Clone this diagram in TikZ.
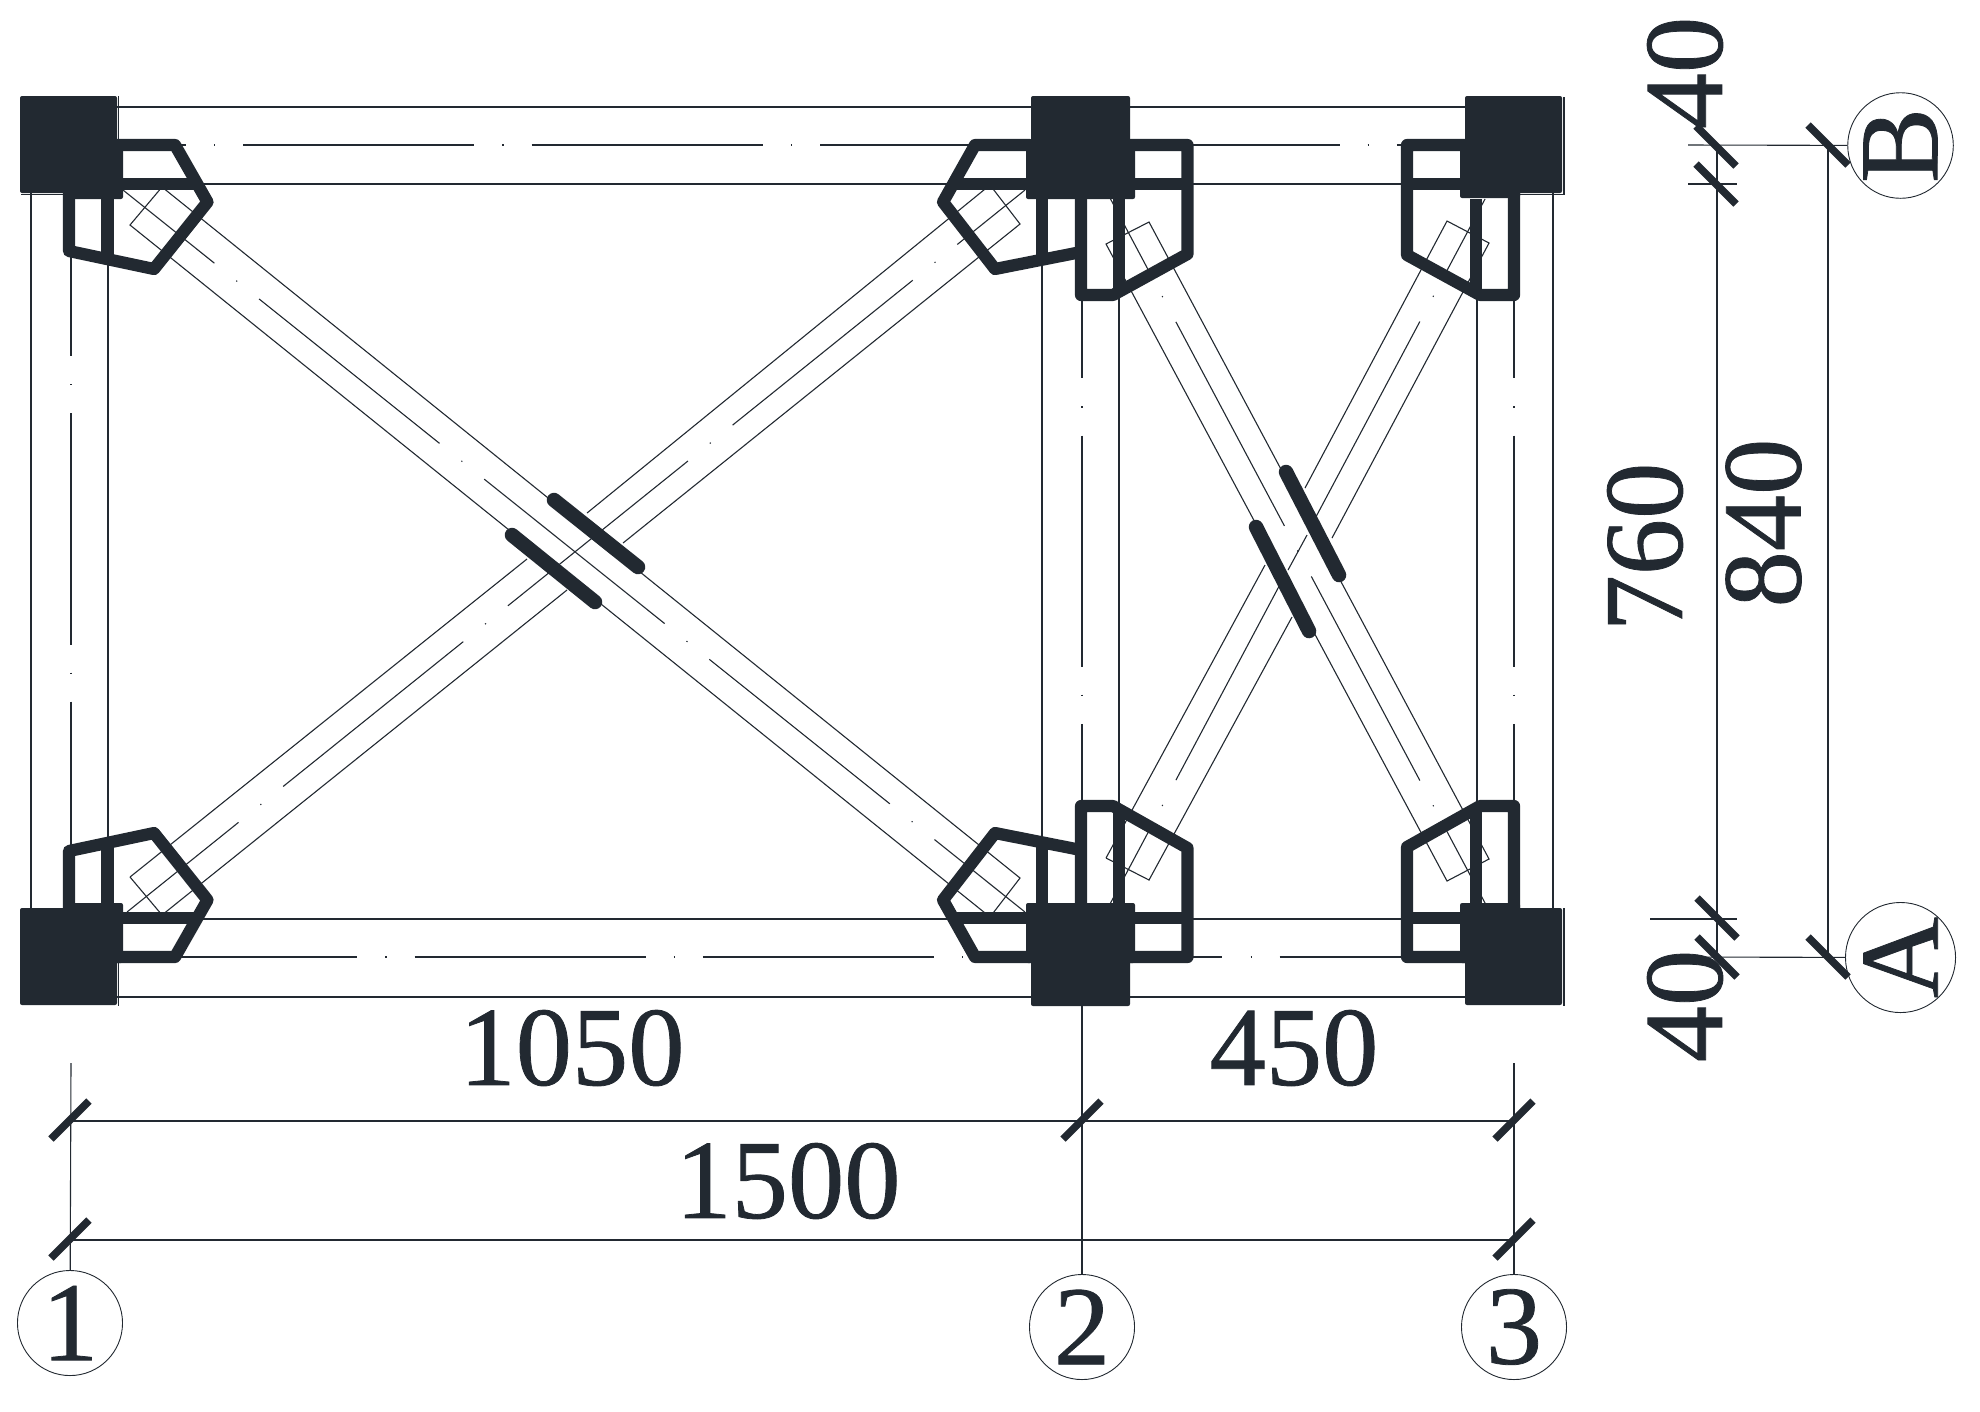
\documentclass[tikz,border=0pt]{standalone}
\usepackage{fontspec}
\setmainfont[FakeBold=0.7]{Liberation Serif}
\definecolor{ink}{HTML}{222931}
\tikzset{
    thinline/.style={draw=ink, line width=0.011cm},
    axisline/.style={thinline, dash pattern=on 2.31cm off .28cm on .012cm off .28cm},
    plate/.style={draw=ink, line width=0.122cm, line join=round},
    colblock/.style={fill=ink, rounded corners=.02cm},
    tickmark/.style={draw=ink, line width=0.075cm},
    gusset/.style={draw=ink, line width=0.145cm, line cap=round},
    dimtext/.style={text=ink, inner sep=0pt, font=\fontsize{32}{32}\selectfont},
    axisbubble/.style={circle, draw=ink, line width=0.009cm, inner sep=0pt, minimum size=1.05cm, dimtext}
}
\begin{document}
\begin{tikzpicture}[x=0.01cm, y=-0.01cm]
    \useasboundingbox (0,0) rectangle (1980,1411);

    % axis bubbles
    \node[axisbubble] (ax1) at (70,1323) {1};
    \node[axisbubble] (ax2) at (1082,1327) {2};
    \node[axisbubble] (ax3) at (1514,1327) {3};
    \node[axisbubble] (axB) at (1900.5,145.5) {\rotatebox{90}{B}};
    \node[axisbubble] (axA) at (1900.5,957.5) {\rotatebox{90}{A}};

    % beams
    \draw[thinline] (117,107) -- (1465,107);
    \draw[thinline] (117,184) -- (1465,184);
    \draw[thinline] (117,919) -- (1465,919);
    \draw[thinline] (117,997) -- (1465,997);
    \draw[thinline] (31,193) -- (31,908);
    \draw[thinline] (108,190) -- (108,908);
    \draw[thinline] (1042,199) -- (1042,903);
    \draw[thinline] (1119,199) -- (1119,903);
    \draw[thinline] (1477,199) -- (1477,903);
    \draw[thinline] (1553,193) -- (1553,908);
    \draw[axisline, dash phase=1.16cm] (71,145) -- (1514,145);
    \draw[axisline, dash phase=2.33cm] (71,957) -- (1514,957);
    \draw[axisline, dash phase=0.20cm] (71,145) -- (71,957);
    \draw[axisline, dash phase=2.86cm] (1082,145) -- (1082,957);
    \draw[axisline, dash phase=2.86cm] (1514,145) -- (1514,957);

    % braces, left bay
    \draw[thinline] (130,225) -- (162,187) -- (1020,878) -- (990,917) -- cycle;
    \draw[axisline, dash phase=1.14cm] (123,190) -- (1025,912);
    \draw[thinline] (130,877) -- (527,559) (587,513) -- (990,185) -- (1020,224) -- (623,543) (567,590) -- (162,915) -- (130,877);
    \draw[axisline, dash phase=0.88cm] (127,912) -- (1025,190);

    % braces, right bay
    \draw[thinline] (1106,244) -- (1149,222) -- (1489,859) -- (1447,881) -- cycle;
    \draw[axisline, dash phase=1.48cm] (1110,198) -- (1485,903);
    \draw[thinline] (1106,858) -- (1265,565) (1305,488) -- (1447,221) -- (1489,243) -- (1332,538) (1292,617) -- (1149,880) -- (1106,858);
    \draw[axisline, dash phase=1.48cm] (1110,904) -- (1485,199);
    \draw[thinline] (1288,570) -- (1307,535);

    % gusset bars
    \draw[gusset] (554,500) -- (638,567);
    \draw[gusset] (512,535) -- (595,602);
    \draw[gusset] (1286,472) -- (1339,575);
    \draw[gusset] (1256,527) -- (1309,631);

    % plates, top row
    \draw[plate] (69,190) -- (69,251) -- (154,269) -- (207.5,202) -- (175,145) -- (110,145);
    \draw[plate] (110,184) -- (198,184);
    \draw[plate] (107.5,190) -- (107.5,258);
    \draw[plate] (1030,145) -- (975,145) -- (943,202) -- (995,269) -- (1081,252);
    \draw[plate] (1030,184) -- (953,184);
    \draw[plate] (1042,199) -- (1042,260);
    \draw[plate] (1081,199) -- (1081,295) -- (1113,295) -- (1187.5,254) -- (1187.5,145) -- (1130,145);
    \draw[plate] (1119,199) -- (1119,290);
    \draw[plate] (1130,184) -- (1187.5,184);
    \draw[plate] (1465,145) -- (1407,145) -- (1407,255) -- (1480,295) -- (1514,295) -- (1514,190);
    \draw[plate] (1407,184) -- (1465,184);
    \draw[plate] (1476,199) -- (1476,293);

    % plates, bottom row
    \draw[plate] (69,912) -- (69,851) -- (154,833) -- (207.5,900) -- (175,957) -- (110,957);
    \draw[plate] (110,918) -- (198,918);
    \draw[plate] (107.5,912) -- (107.5,844);
    \draw[plate] (1030,957) -- (975,957) -- (943,900) -- (995,833) -- (1081,850);
    \draw[plate] (1030,918) -- (953,918);
    \draw[plate] (1042,903) -- (1042,842);
    \draw[plate] (1081,903) -- (1081,806) -- (1113,806) -- (1187.5,848) -- (1187.5,957) -- (1130,957);
    \draw[plate] (1119,903) -- (1119,812);
    \draw[plate] (1130,918) -- (1187.5,918);
    \draw[plate] (1465,957) -- (1407,957) -- (1407,847) -- (1480,806) -- (1514,806) -- (1514,912);
    \draw[plate] (1407,918) -- (1465,918);
    \draw[plate] (1476,903) -- (1476,809);

    % columns
    \fill[colblock] (63,139) rectangle (123,199);
    \fill[colblock] (1026,139) rectangle (1135,199);
    \fill[colblock] (1460,139) rectangle (1520,198);
    \fill[colblock] (63,903) rectangle (123,963);
    \fill[colblock] (1026,903) rectangle (1135,963);
    \fill[colblock] (1460,903) rectangle (1520,963);
    \fill[colblock] (20,96) rectangle (117,193);
    \fill[colblock] (1031,96) rectangle (1130,198);
    \fill[colblock] (1465,96) rectangle (1562,193);
    \fill[colblock] (20,908) rectangle (117,1005);
    \fill[colblock] (1031,905) rectangle (1130,1006);
    \fill[colblock] (1465,908) rectangle (1562,1005);
    \draw[thinline] (118.5,96) -- (118.5,194.5) -- (21,194.5);
    \draw[thinline] (1564,97) -- (1564,194.5) -- (1520,194.5);
    \draw[thinline] (118.5,963) -- (118.5,1006);
    \draw[thinline] (1564,908) -- (1564,1006);

    % extension and dimension lines
    \coordinate (ext1) at (71,1063);
    \coordinate (ext2) at (1082,1006);
    \coordinate (ext3) at (1514,1063);
    \draw[thinline] (ext1) -- (ax1);
    \draw[thinline] (ext2) -- (ax2);
    \draw[thinline] (ext3) -- (ax3);
    \coordinate (dimaL) at (71,1121);
    \coordinate (dimaR) at (1514,1121);
    \coordinate (dimbL) at (71,1240);
    \coordinate (dimbR) at (1514,1240);
    \draw[thinline] (dimaL) -- (dimaR);
    \draw[thinline] (dimbL) -- (dimbR);
    \coordinate (dimcT) at (1717,145);
    \coordinate (dimcB) at (1717,957);
    \coordinate (dimdT) at (1828,145);
    \coordinate (dimdB) at (1828,957);
    \draw[thinline] (dimcT) -- (dimcB);
    \draw[thinline] (dimdT) -- (dimdB);
    \draw[thinline] (1688,145) -- (axB);
    \draw[thinline] (1688,957) -- (axA);
    \draw[thinline] (1688,184) -- (1737,184);
    \draw[thinline] (1650,919) -- (1737,919);

    % ticks
    \foreach \tx/\ty in {70/1120, 70/1239, 1082/1120, 1514/1120, 1514/1239}
        \draw[tickmark] (\tx-19,\ty+19) -- (\tx+19,\ty-19);
    \foreach \tx/\ty in {1716/146, 1716/184, 1828/145, 1717/918, 1717/957, 1828/957}
        \draw[tickmark] (\tx-20,\ty-20) -- (\tx+20,\ty+20);

    % dimension texts
    \node[dimtext] (t1050) at (572,1048) {1050};
    \node[dimtext] (t450) at (1294,1048) {450};
    \node[dimtext] (t1500) at (788,1181) {1500};
    \node[dimtext, rotate=90] (t760) at (1645,547) {760};
    \node[dimtext, rotate=90] (t840) at (1763.5,523) {840};
    \node[dimtext, rotate=90] (t40a) at (1685,73) {40};
    \node[dimtext, rotate=90] (t40b) at (1685,1006) {40};
\end{tikzpicture}
\end{document}
